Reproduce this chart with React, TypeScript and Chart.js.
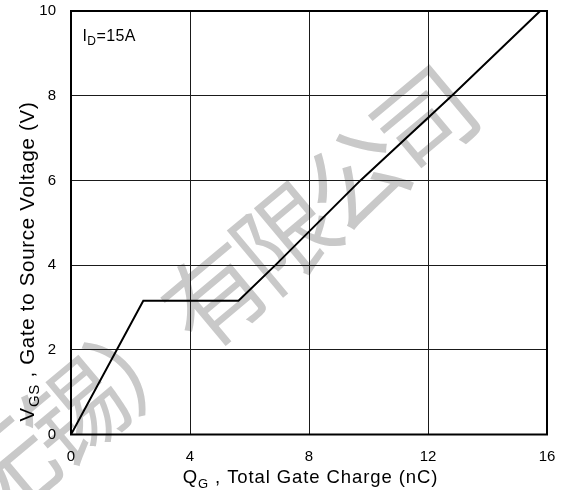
import React, { useEffect, useRef } from "react";
import { Chart, registerables } from "chart.js";

Chart.register(...registerables);

// Gate charge curve (Q_G in nC, V_GS in V)
const chargeNC = [0, 2.43, 5.63, 6.87, 9.73, 12.8, 15.77];
const gateVoltage = [0, 3.16, 3.16, 4.0, 6.0, 8.0, 10.0];

const xMin = 0;
const xMax = 16;
const xStep = 4;
const yMin = 0;
const yMax = 10;
const yStep = 2;

const xTitleParts = [
  { text: "Q", sub: false },
  { text: "G", sub: true },
  { text: " , Total Gate Charge (nC)", sub: false },
];
const yTitleParts = [
  { text: "V", sub: false },
  { text: "GS", sub: true },
  { text: " , Gate to Source Voltage (V)", sub: false },
];
const noteParts = [
  { text: "I", sub: false },
  { text: "D", sub: true },
  { text: "=15A", sub: false },
];
const watermarkChars = ["无", "锡", "）", "有", "限", "公", "司"];

const FONT = "'Liberation Sans', Arial, sans-serif";

type Part = { text: string; sub: boolean };

function drawRich(
  ctx: CanvasRenderingContext2D,
  parts: Part[],
  x: number,
  y: number,
  size: number,
  align: "left" | "center",
  spacing: number
) {
  const subSize = Math.round(size * 0.72);
  (ctx as any).letterSpacing = `${spacing}px`;
  let total = 0;
  const widths = parts.map((p) => {
    ctx.font = `${p.sub ? subSize : size}px ${FONT}`;
    const w = ctx.measureText(p.text).width;
    total += w;
    return w;
  });
  let cx = align === "center" ? x - total / 2 : x;
  ctx.textBaseline = "alphabetic";
  ctx.textAlign = "left";
  parts.forEach((p, i) => {
    ctx.font = `${p.sub ? subSize : size}px ${FONT}`;
    ctx.fillText(p.text, cx, p.sub ? y + size * 0.28 : y);
    cx += widths[i];
  });
  (ctx as any).letterSpacing = "0px";
}

const decorPlugin = {
  id: "decor",
  beforeDraw(chart: any) {
    const ctx = chart.ctx as CanvasRenderingContext2D;
    ctx.save();
    ctx.fillStyle = "#ffffff";
    ctx.fillRect(0, 0, chart.width, chart.height);
    // watermark
    ctx.fillStyle = "#c9c9c9";
    ctx.font = `100px 'Noto Sans CJK SC', sans-serif`;
    ctx.textAlign = "center";
    ctx.textBaseline = "middle";
    const cx0 = 215;
    const cy0 = 295;
    const stepX = 70;
    const stepY = -58.5;
    const ang = Math.atan2(stepY, stepX);
    watermarkChars.forEach((ch, i) => {
      const k = i - 3;
      ctx.save();
      ctx.translate(cx0 + k * stepX, cy0 + k * stepY);
      ctx.rotate(ang);
      ctx.fillText(ch, 0, 0);
      ctx.restore();
    });
    ctx.restore();
  },
  afterDraw(chart: any) {
    const ctx = chart.ctx as CanvasRenderingContext2D;
    const a = chart.chartArea;
    ctx.save();
    ctx.strokeStyle = "#000";
    ctx.lineWidth = 2;
    ctx.strokeRect(a.left, a.top, a.right - a.left, a.bottom - a.top);
    ctx.fillStyle = "#000";
    drawRich(ctx, xTitleParts, 310.5, 483.3, 18.5, "center", 0.9);
    ctx.save();
    ctx.translate(33.5, 261.5);
    ctx.rotate(-Math.PI / 2);
    drawRich(ctx, yTitleParts, 0, 0, 20.5, "center", 0.7);
    ctx.restore();
    drawRich(ctx, noteParts, a.left + 11.5, a.top + 29.5, 16, "left", 0.4);
    ctx.restore();
  },
};

export default function App() {
  const ref = useRef<HTMLCanvasElement | null>(null);

  useEffect(() => {
    if (!ref.current) return;
    const chart = new Chart(ref.current, {
      type: "line",
      data: {
        datasets: [
          {
            data: chargeNC.map((q, i) => ({ x: q, y: gateVoltage[i] })),
            borderColor: "#000",
            borderWidth: 2,
            pointRadius: 0,
            tension: 0,
            fill: false,
          },
        ],
      },
      options: {
        responsive: false,
        animation: false,
        layout: { padding: { top: 11, right: 16, left: 0, bottom: 0 } },
        plugins: {
          legend: { display: false },
          tooltip: { enabled: false },
          title: { display: false },
        },
        scales: {
          x: {
            type: "linear",
            min: xMin,
            max: xMax,
            ticks: {
              stepSize: xStep,
              color: "#000",
              font: { family: FONT, size: 15 },
              padding: 13,
              maxRotation: 0,
            },
            grid: { color: "#1a1a1a", lineWidth: 1, drawTicks: false },
            border: { display: false },
            afterFit: (s: any) => {
              s.height = 55.5;
              s.paddingLeft = 0;
              s.paddingRight = 0;
            },
          },
          y: {
            type: "linear",
            min: yMin,
            max: yMax,
            ticks: {
              stepSize: yStep,
              color: "#000",
              font: { family: FONT, size: 15 },
              padding: 15,
            },
            grid: { color: "#1a1a1a", lineWidth: 1, drawTicks: false },
            border: { display: false },
            afterFit: (s: any) => {
              s.width = 71;
              s.paddingTop = 0;
              s.paddingBottom = 0;
            },
          },
        },
      },
      plugins: [decorPlugin],
    });
    return () => chart.destroy();
  }, []);

  return (
    <div style={{ position: "absolute", left: 0, top: 0, width: 563, height: 490 }}>
      <canvas ref={ref} width={563} height={490} style={{ display: "block" }} />
    </div>
  );
}
